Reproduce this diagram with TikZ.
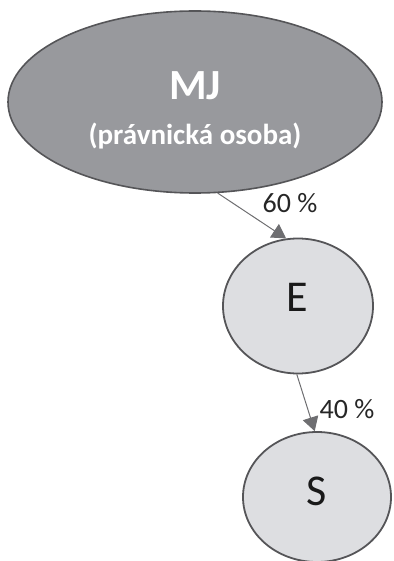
\documentclass[tikz,border=0pt]{standalone}
\usepackage{fontspec}
\setmainfont{Carlito}
\usetikzlibrary{shapes.geometric,arrows.meta}
\definecolor{darkfill}{RGB}{152,153,157}
\definecolor{lightfill}{RGB}{221,222,225}
\definecolor{rim}{RGB}{85,85,88}
\definecolor{arrowgray}{RGB}{110,110,113}
\tikzset{
  bigell/.style={ellipse,draw=rim,line width=1.6pt,fill=darkfill,inner sep=0pt},
  smallell/.style={ellipse,draw=rim,line width=1.8pt,fill=lightfill,inner sep=0pt},
  conn/.style={draw=arrowgray,line width=1pt,-{Triangle[length=14pt,width=16pt]}},
  pct/.style={font=\fontsize{28}{30}\selectfont,text=black!85,inner sep=0pt},
  letter/.style={font=\fontsize{44}{48}\selectfont,text=black!90,inner sep=0pt}
}
\begin{document}
\begin{tikzpicture}[x=1pt,y=-1pt]
\useasboundingbox (0,0) rectangle (393,561);
\node[bigell,minimum width=374pt,minimum height=182pt] (MJ) at (195,102) {};
\node[text=white,font=\bfseries\fontsize{43}{46}\selectfont,inner sep=0pt] (mjt) at (195,86) {MJ};
\node[text=white,font=\bfseries\fontsize{29}{32}\selectfont,inner sep=0pt] (po) at (195,136) {(právnická osoba)};
\node[smallell,minimum width=150pt,minimum height=135pt] (E) at (298,306) {};
\node[smallell,minimum width=148pt,minimum height=130pt] (S) at (317,497) {};
\node[letter] (et) at (297,297) {E};
\node[letter] (st) at (317,491) {S};
\draw[conn] (MJ.-76) -- (E.100);
\draw[conn] (E.-91) -- (S.92);
\node[pct] (l1) at (290,203) {60 \%};
\node[pct] (l2) at (347,409) {40 \%};
\end{tikzpicture}
\end{document}
